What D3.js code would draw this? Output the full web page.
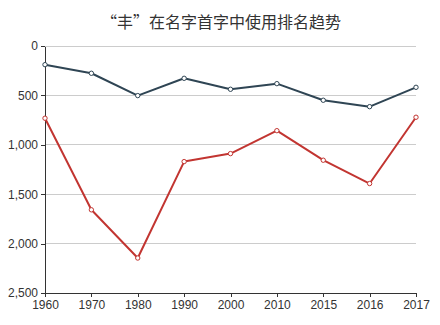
<!DOCTYPE html>
<html>
<head>
<meta charset="utf-8">
<script src="https://cdn.jsdelivr.net/npm/d3@7"></script>
<style>
  html, body { margin: 0; padding: 0; background: #fff; }
  svg { display: block; }
</style>
</head>
<body>
<div id="chart"></div>
<script>
// Rank of "丰" as the first character of given names, by year
const years = ["1960", "1970", "1980", "1990", "2000", "2010", "2015", "2016", "2017"];
const rankA = [189, 276, 502, 327, 438, 381, 549, 614, 418];
const rankB = [731, 1658, 2146, 1170, 1089, 857, 1156, 1392, 721];
const yTicks = [0, 500, 1000, 1500, 2000, 2500];
const titleText = "“丰”在名字首字中使用排名趋势";

const W = 440, H = 325;
const margin = { top: 46, right: 24, bottom: 32, left: 45 };
const innerW = W - margin.left - margin.right;
const innerH = H - margin.top - margin.bottom;

const svg = d3.select("#chart").append("svg")
  .attr("width", W).attr("height", H);

svg.append("text")
  .attr("x", 221).attr("y", 28)
  .attr("text-anchor", "middle")
  .attr("font-family", "'Noto Sans CJK SC', sans-serif")
  .attr("font-size", 16)
  .attr("fill", "#333")
  .text(titleText);

const g = svg.append("g").attr("transform", `translate(${margin.left},${margin.top})`);

const x = d3.scalePoint().domain(years).range([0, innerW]);
const y = d3.scaleLinear().domain([0, 2500]).range([0, innerH]);

// horizontal grid
g.append("g")
  .selectAll("line")
  .data(yTicks.slice(1, -1))
  .join("line")
  .attr("x1", 0).attr("x2", innerW)
  .attr("y1", d => y(d)).attr("y2", d => y(d))
  .attr("stroke", "#ccc").attr("stroke-width", 1)
  .attr("shape-rendering", "crispEdges");
g.append("line")
  .attr("x1", 0).attr("x2", innerW)
  .attr("y1", 0).attr("y2", 0)
  .attr("stroke", "#ccc").attr("shape-rendering", "crispEdges");

const fmt = d3.format(",");
const yAxis = g.append("g")
  .call(d3.axisLeft(y).tickValues(yTicks).tickFormat(fmt).tickSize(4).tickPadding(3).tickSizeOuter(0));
const xAxis = g.append("g")
  .attr("transform", `translate(0,${innerH})`)
  .call(d3.axisBottom(x).tickSize(4).tickPadding(3).tickSizeOuter(0));

[yAxis, xAxis].forEach(a => {
  a.select(".domain").attr("stroke", "#333").attr("shape-rendering", "crispEdges");
  a.selectAll(".tick line").attr("stroke", "#333").attr("shape-rendering", "crispEdges");
  a.selectAll("text")
    .attr("font-family", "'Liberation Sans', Arial, sans-serif")
    .attr("font-size", 12)
    .attr("fill", "#333");
});

const series = [
  { values: rankA, color: "#2f4554" },
  { values: rankB, color: "#c23531" }
];

const line = d3.line()
  .x((d, i) => x(years[i]))
  .y(d => y(d));

series.forEach(s => {
  g.append("path")
    .datum(s.values)
    .attr("fill", "none")
    .attr("stroke", s.color)
    .attr("stroke-width", 2)
    .attr("stroke-linejoin", "round")
    .attr("d", line);
  g.append("g")
    .selectAll("circle")
    .data(s.values)
    .join("circle")
    .attr("cx", (d, i) => x(years[i]))
    .attr("cy", d => y(d))
    .attr("r", 2.2)
    .attr("fill", "#fff")
    .attr("stroke", s.color)
    .attr("stroke-width", 1);
});
</script>
</body>
</html>
